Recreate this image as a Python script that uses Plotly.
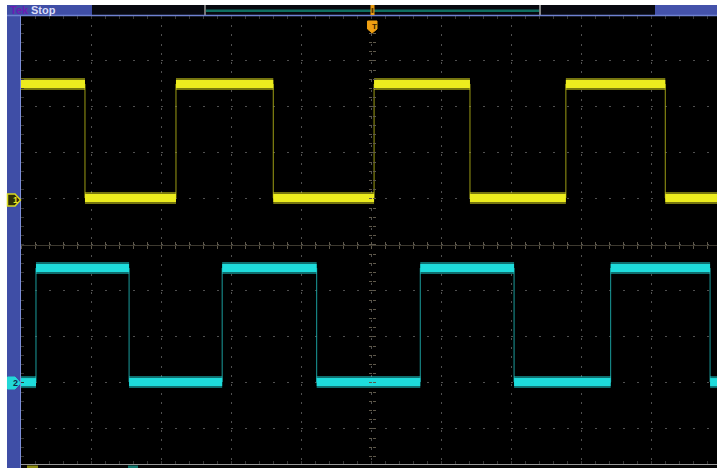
import plotly.graph_objects as go

# ---- acquisition data (time in horizontal divisions from the trigger point,
#      amplitude in vertical divisions from screen centre) ----
ch1_edges = [-4.10, -2.80, -1.41, 0.03, 1.40, 2.77, 4.19]
ch1_starts_high = True
ch1_high, ch1_low = 3.50, 1.02
ch1_ground = 0.98

ch2_edges = [-4.80, -3.47, -2.14, -0.79, 0.69, 2.03, 3.41, 4.83]
ch2_starts_high = False
ch2_high, ch2_low = -0.50, -2.98
ch2_ground = -3.00

time_view = [-5.014, 4.929]
volt_view = [-4.761, 4.978]

ch1_color, ch1_edge_color = "#ecec1e", "#9c9c14"
ch2_color, ch2_edge_color = "#1edcdc", "#1a9c9c"

# ---- screen geometry (pixels) ----
W, H = 717, 468
ML, MT, MB = 21, 16, 4
PW, PH = W - ML, H - MT - MB


def px(x):
    return (x - ML) / PW


def py(y):
    return (H - MB - y) / PH


def square_wave(edges, starts_high, hi, lo, t0, t1):
    bounds = [t0] + list(edges) + [t1]
    lx, ly = [], []
    level = starts_high
    for a, b in zip(bounds[:-1], bounds[1:]):
        v = hi if level else lo
        lx += [a, b, None]
        ly += [v, v, None]
        level = not level
    ex, ey = [], []
    for e in edges:
        ex += [e, e, None]
        ey += [lo, hi, None]
    return lx, ly, ex, ey


fig = go.Figure()


def add_channel(edges, starts_high, hi, lo, color, edge_color):
    lx, ly, ex, ey = square_wave(edges, starts_high, hi, lo, time_view[0] - 0.1, time_view[1] + 0.1)
    r, g, b = (int(color[i:i + 2], 16) for i in (1, 3, 5))
    fig.add_trace(go.Scatter(x=ex, y=ey, mode="lines", hoverinfo="skip",
                             line=dict(color=edge_color, width=1)))
    fig.add_trace(go.Scatter(x=lx, y=ly, mode="lines", hoverinfo="skip",
                             line=dict(color=f"rgba({r},{g},{b},0.5)", width=12)))
    fig.add_trace(go.Scatter(x=lx, y=ly, mode="lines", hoverinfo="skip",
                             line=dict(color=color, width=8)))


add_channel(ch1_edges, ch1_starts_high, ch1_high, ch1_low, ch1_color, ch1_edge_color)
add_channel(ch2_edges, ch2_starts_high, ch2_high, ch2_low, ch2_color, ch2_edge_color)

grid_col = "#505050"
tick_col = "#363636"
centre_col = "#3e3a30"
centre_tick = "#5e584a"

common = dict(showticklabels=False, zeroline=False, automargin=False, fixedrange=True)

fig.update_layout(
    width=W, height=H,
    margin=dict(l=ML, r=0, t=MT, b=MB, pad=0),
    paper_bgcolor="white", plot_bgcolor="black",
    showlegend=False,
    xaxis=dict(range=time_view, dtick=1, tick0=0, showgrid=True, gridcolor=grid_col,
               gridwidth=1, griddash="2px,7.2px", ticks="inside", ticklen=3,
               tickcolor=tick_col, mirror="ticks",
               minor=dict(dtick=0.2, tick0=0, ticks="inside", ticklen=3, tickcolor=tick_col,
                          showgrid=False),
               **common),
    yaxis=dict(range=volt_view, dtick=1, tick0=0, showgrid=True, gridcolor=grid_col,
               gridwidth=1, griddash="2px,12px", ticks="inside", ticklen=3,
               tickcolor=tick_col, mirror=False,
               minor=dict(dtick=0.2, tick0=0, ticks="inside", ticklen=3, tickcolor=tick_col,
                          showgrid=False),
               **common),
)

# centre graticule lines with tick marks on both sides
xc = (0 - volt_view[0]) / (volt_view[1] - volt_view[0])
yc = (0 - time_view[0]) / (time_view[1] - time_view[0])
for name, side_ticks in (("xaxis2", "outside"), ("xaxis3", "inside")):
    fig.update_layout(**{name: dict(overlaying="x", matches="x", anchor="free", position=xc,
                                    showline=True, linecolor=centre_col, linewidth=1,
                                    showgrid=False, dtick=1, tick0=0, ticks=side_ticks,
                                    ticklen=3, tickcolor=centre_tick,
                                    minor=dict(dtick=0.2, tick0=0, ticks=side_ticks, ticklen=3,
                                               tickcolor=centre_tick, showgrid=False),
                                    **common)})
for name, side_ticks in (("yaxis2", "outside"), ("yaxis3", "inside")):
    fig.update_layout(**{name: dict(overlaying="y", matches="y", anchor="free", position=yc,
                                    showline=False, showgrid=False, dtick=1, tick0=0,
                                    ticks=side_ticks, ticklen=3, tickcolor=centre_tick,
                                    minor=dict(dtick=0.2, tick0=0, ticks=side_ticks, ticklen=3,
                                               tickcolor=centre_tick, showgrid=False),
                                    **common)})
for xa, ya in (("x2", "y"), ("x3", "y"), ("x", "y2"), ("x", "y3")):
    fig.add_trace(go.Scatter(x=[], y=[], xaxis=xa, yaxis=ya, hoverinfo="skip"))

shapes = []


def rect(x0, y0, x1, y1, fill, line=None, lw=0):
    shapes.append(dict(type="rect", xref="paper", yref="paper", layer="above",
                       x0=px(x0), x1=px(x1), y0=py(y1), y1=py(y0), fillcolor=fill,
                       line=dict(color=line or fill, width=lw)))


def hline(x0, x1, y, color, width=1):
    shapes.append(dict(type="line", xref="paper", yref="paper", layer="above",
                       x0=px(x0), x1=px(x1), y0=py(y), y1=py(y), line=dict(color=color, width=width)))


def vline(x, y0, y1, color, width=1):
    shapes.append(dict(type="line", xref="paper", yref="paper", layer="above",
                       x0=px(x), x1=px(x), y0=py(y0), y1=py(y1), line=dict(color=color, width=width)))


def poly(points, fill, line, lw=1):
    d = "M " + " L ".join(f"{px(a):.5f},{py(b):.5f}" for a, b in points) + " Z"
    shapes.append(dict(type="path", xref="paper", yref="paper", layer="above", path=d,
                       fillcolor=fill, line=dict(color=line, width=lw)))


# side strip and status bar
blue = "#3f4ea6"
rect(7, 5, 20, 468, blue)
vline(20.5, 16, 468, "#7d8fda", 1)
rect(7, 5, 92, 16, blue)
rect(92, 5, 655, 16, "#07080f")
rect(655, 5, 717, 16, "#4452aa")
vline(205, 5, 16, "#9a9a9a", 1.5)
vline(540, 5, 16, "#b0b0b0", 1.5)
hline(206, 539, 10.8, "#0f6e60", 2.5)
hline(7, 717, 15.5, "#6f82d2", 1.5)

# bottom edge of the screen with readout tabs
rect(21, 464, 717, 468, "#050505")
hline(21, 717, 464.5, "#9a9a9a", 1)
rect(27, 465.5, 38, 468, "#8a8a10")
rect(128, 465.5, 138, 468, "#127a70")

# trigger position marker in the record bar and trigger point marker
rect(370.5, 5, 374.5, 15, "#e89a10")
rect(371.6, 8, 373.4, 13, "#5a3a00")
poly([(367.5, 21), (377, 21), (377, 29), (372.2, 33), (367.5, 29)], "#f0a012", "#f0a012")

# channel ground markers
ch1_y = 245 - ch1_ground * 46
ch2_y = 245 - ch2_ground * 46
poly([(7.5, ch1_y - 6), (15, ch1_y - 6), (20.5, ch1_y), (15, ch1_y + 6), (7.5, ch1_y + 6)],
     "#2e2e06", "#d8d820", 1.5)
poly([(7.5, ch2_y - 6), (15, ch2_y - 6), (20.5, ch2_y), (15, ch2_y + 6), (7.5, ch2_y + 6)],
     "#22d8d8", "#22d8d8", 1)

fig.update_layout(shapes=shapes)

font = "Liberation Sans, Arial, sans-serif"
annotations = [
    dict(text="<b>Tek</b>", x=px(7.5), y=py(10.5), font=dict(color="#6c1cb4", size=11, family=font)),
    dict(text="<b>Stop</b>", x=px(29), y=py(10.5), font=dict(color="#d9dcf6", size=11, family=font)),
    dict(text="<b>1</b>", x=px(11), y=py(ch1_y), font=dict(color="#e6e620", size=9, family=font)),
    dict(text="<b>2</b>", x=px(10.5), y=py(ch2_y), font=dict(color="#0b2a48", size=9, family=font)),
    dict(text="<b>T</b>", x=px(369.5), y=py(26.5), font=dict(color="#3a2400", size=8, family=font)),
]
for a in annotations:
    a.update(xref="paper", yref="paper", xanchor="left", yanchor="middle", showarrow=False)
fig.update_layout(annotations=annotations)

fig.write_html("out.html")
